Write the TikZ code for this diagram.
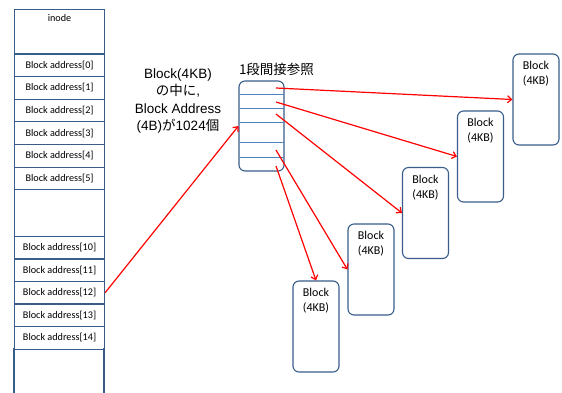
\documentclass[tikz,border=0pt]{standalone}
\usepackage{fontspec}
\newfontfamily\calfont{Carlito}
\newfontfamily\arifont{Liberation Sans}
\newfontfamily\cjkfont{Noto Sans CJK JP}
\usetikzlibrary{arrows.meta}
\definecolor{bord}{RGB}{56,93,138}
\definecolor{innerline}{RGB}{79,129,189}
\tikzset{
  cell/.style={draw=bord, line width=1.1pt, minimum width=90pt, minimum height=22.6pt, inner sep=0pt, font=\calfont\fontsize{10.2}{12}\selectfont, anchor=north west},
  blk/.style={draw=bord, line width=1.1pt, rounded corners=6pt, minimum width=46pt, minimum height=91pt, inner sep=0pt,
     label={[anchor=north, inner sep=0pt, yshift=-8pt, align=center, font=\calfont\fontsize{12}{15}\selectfont]north:Block\\(4KB)}},
  ptr/.style={red, line width=1.2pt, -{Straight Barb[length=4pt,width=7pt]}}
}
\begin{document}
\begin{tikzpicture}[x=1pt,y=-1pt]
\fill[white] (0,0) rectangle (562,392);
\useasboundingbox (0,0) rectangle (562,392);
% inode column
\node[cell, minimum height=44pt, label={[anchor=north, inner sep=0pt, yshift=-5pt, font=\calfont\fontsize{10.2}{12}\selectfont]north:inode}] (inode) at (14,9) {};
\node[cell] (r0) at (14,53.5) {Block address[0]};
\node[cell] (r1) at (14,76.1) {Block address[1]};
\node[cell] (r2) at (14,98.7) {Block address[2]};
\node[cell] (r3) at (14,121.3) {Block address[3]};
\node[cell] (r4) at (14,143.9) {Block address[4]};
\node[cell] (r5) at (14,166.5) {Block address[5]};
\node[cell, minimum height=46.8pt] (gap) at (14,189.1) {};
\node[cell] (r10) at (14,235.9) {Block address[10]};
\node[cell] (r11) at (14,258.4) {Block address[11]};
\node[cell] (r12) at (14,280.9) {Block address[12]};
\node[cell] (r13) at (14,303.4) {Block address[13]};
\node[cell] (r14) at (14,325.9) {Block address[14]};
\draw[bord, line width=1.1pt] (14,348.4) -- (14,398);
\draw[bord, line width=1.1pt] (104,348.4) -- (104,398);
% description
\node[align=center, font=\arifont\fontsize{13.5}{17.2}\selectfont] (desc) at (178,101)
  {Block(4KB)\\{\cjkfont の中に},\\Block Address\\(4B){\cjkfont が}1024{\cjkfont 個}};
\node[font=\cjkfont\fontsize{13.5}{16}\selectfont] (title) at (276.5,69) {1段間接参照};
% indirect block
\node[draw=bord, line width=1.1pt, rounded corners=6pt, minimum width=45pt, minimum height=90pt, inner sep=0pt] (ind) at (261.5,126) {};
\foreach \yy in {94,108,122,142,157}
  \draw[innerline, line width=0.9pt] (239.5,\yy) -- (283.5,\yy);
\coordinate (p1) at (276,88);
\coordinate (p2) at (276,102);
\coordinate (p3) at (276,114);
\coordinate (p4) at (276,150);
\coordinate (p5) at (276,166);
% data blocks
\node[blk] (b1) at (536,99.5) {};
\node[blk] (b2) at (480.5,156.5) {};
\node[blk] (b3) at (425.5,213) {};
\node[blk] (b4) at (371,269.5) {};
\node[blk] (b5) at (316,326.5) {};
% arrows
\draw[ptr] (r12.east) -- (ind.west);
\draw[ptr] (p1) -- (b1.west);
\draw[ptr] (p2) -- (b2.west);
\draw[ptr] (p3) -- (b3.west);
\draw[ptr] (p4) -- (b4.west);
\draw[ptr] (p5) -- (b5.north);
\end{tikzpicture}
\end{document}
